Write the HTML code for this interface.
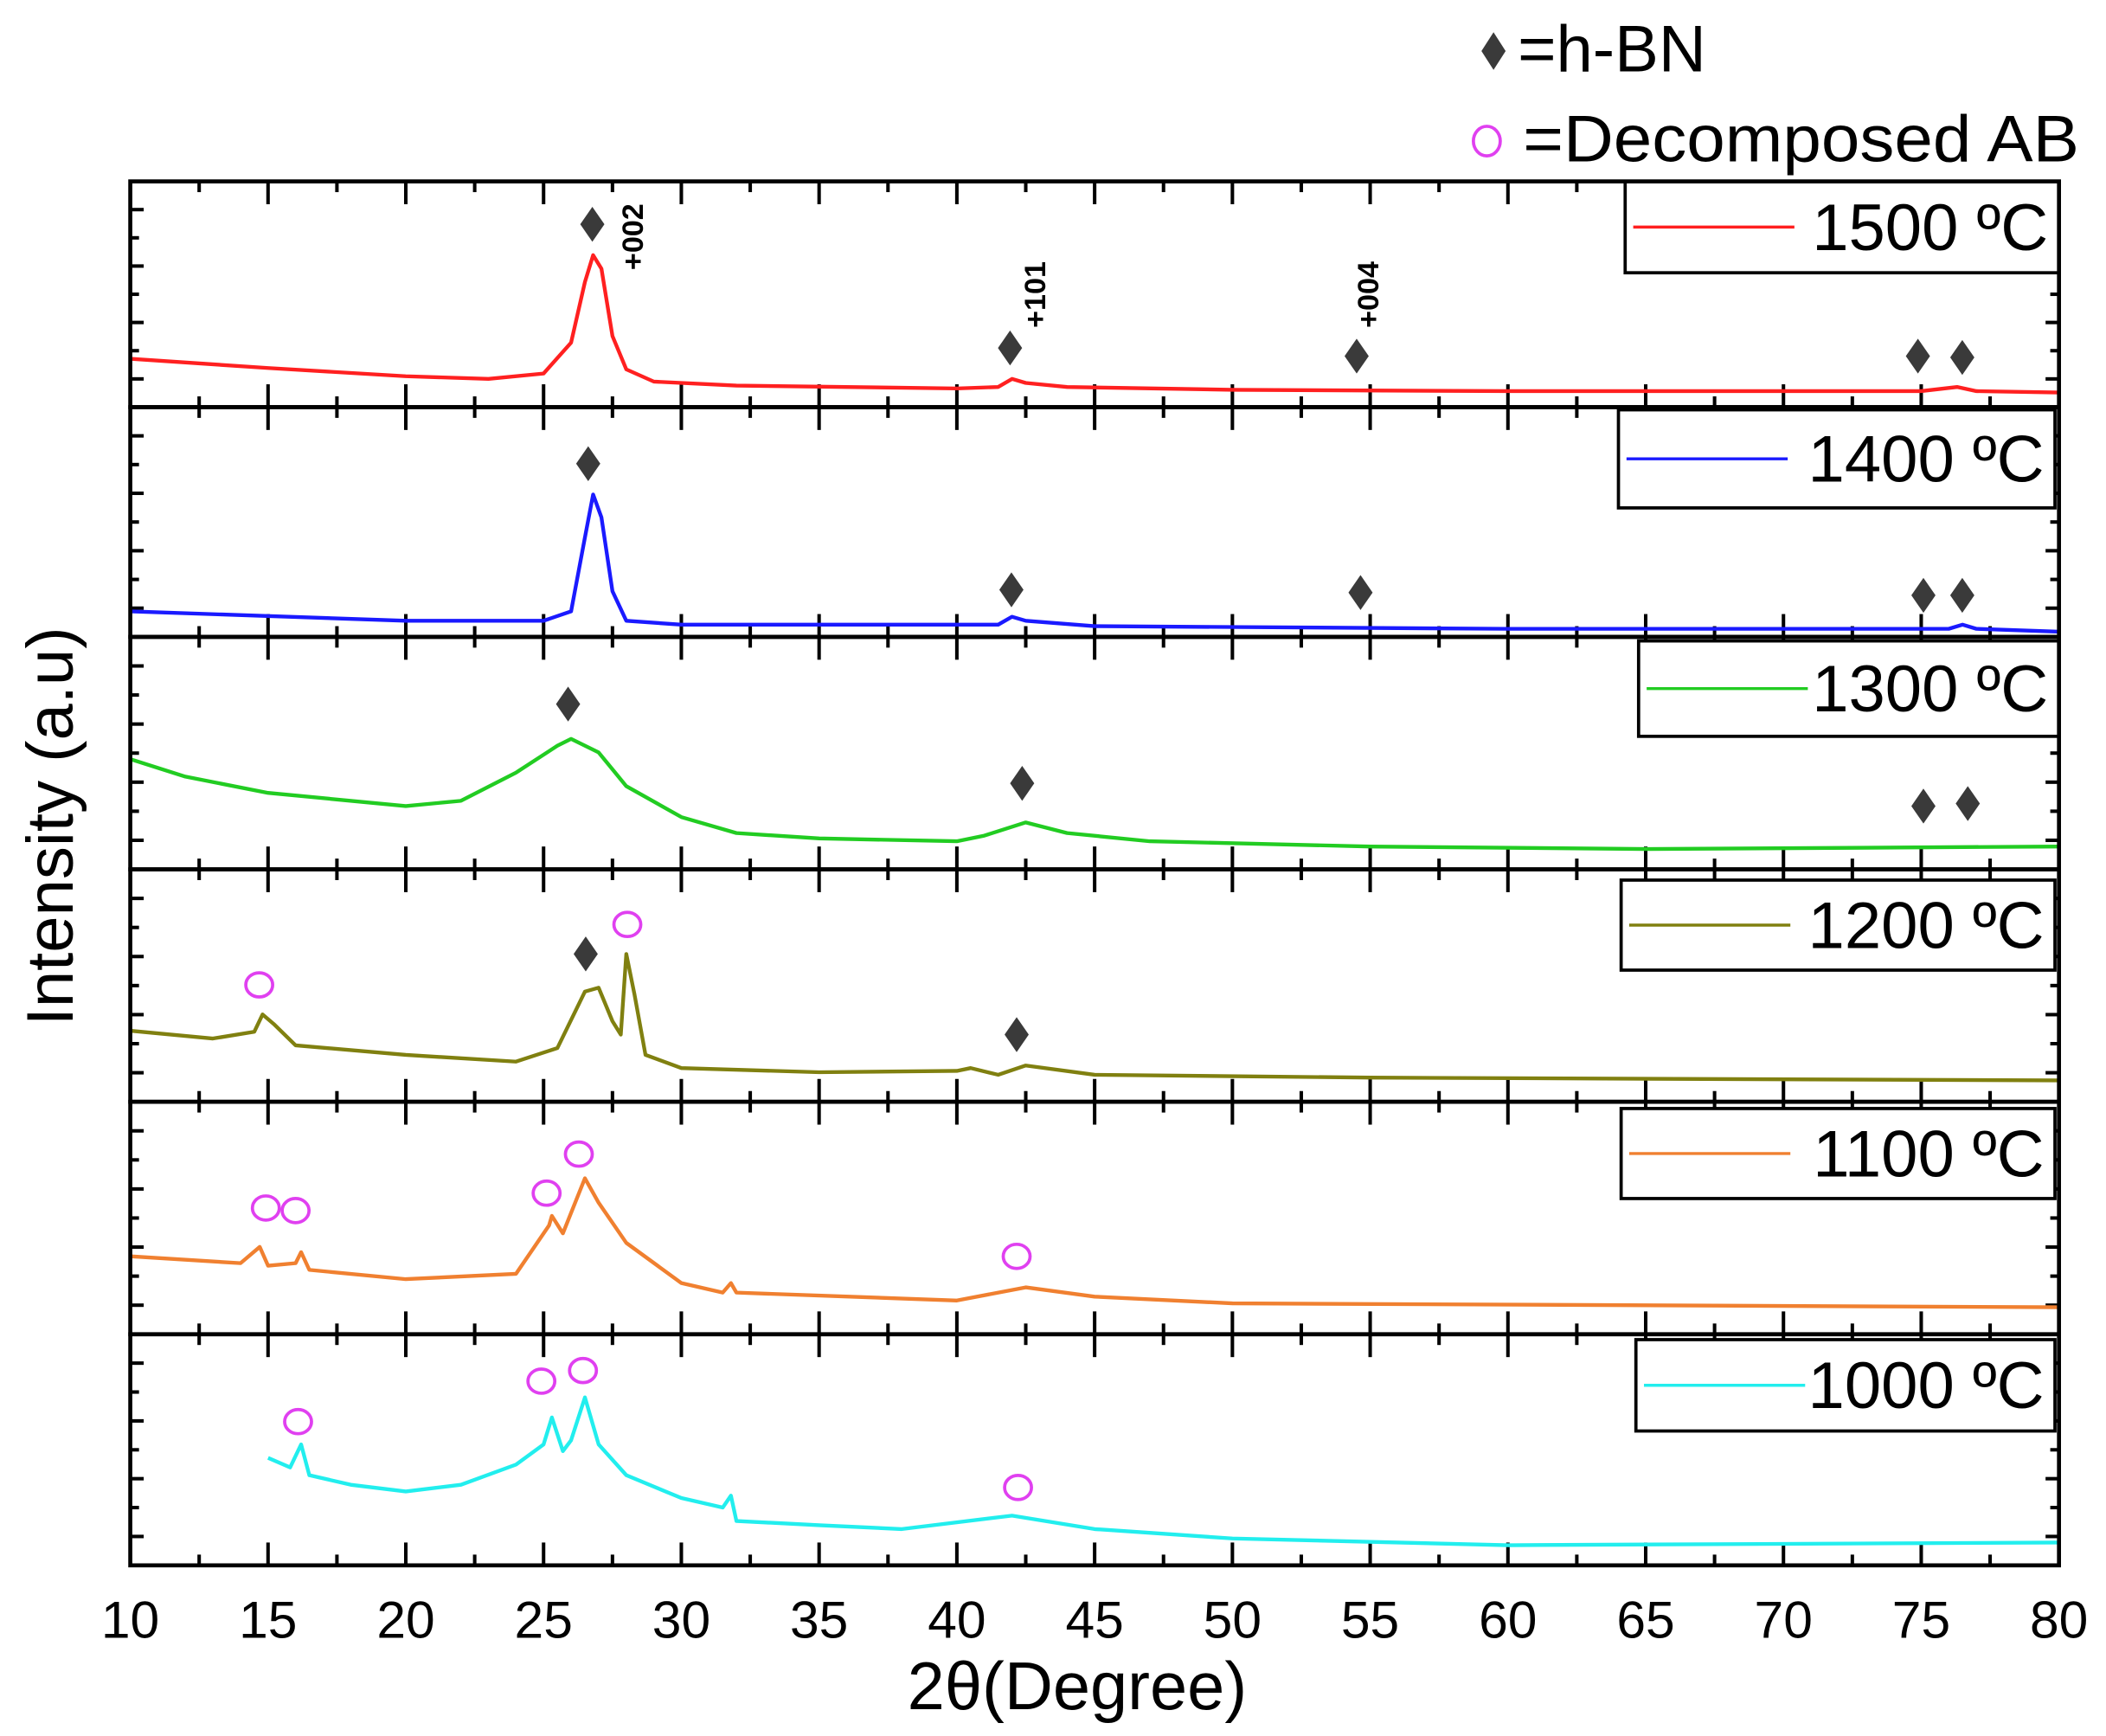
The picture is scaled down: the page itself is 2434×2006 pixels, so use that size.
<!DOCTYPE html>
<html><head><meta charset="utf-8"><style>
html,body{margin:0;padding:0;background:#fff}
svg{display:block}
text{font-family:"Liberation Sans",sans-serif}
</style></head><body>
<svg id="chart" width="2434" height="2006" viewBox="0 0 1568 1292" preserveAspectRatio="none" xmlns="http://www.w3.org/2000/svg">
<g id="g"></g>
</svg>
<script>
// panel labels / colours
const panelLabels = ["1500 ºC","1400 ºC","1300 ºC","1200 ºC","1100 ºC","1000 ºC"];
const panelColors = ["#ff2020","#1a1aff","#22cc22","#808010","#f08030","#22eeee"];
// series data: 2θ and intensity (0-100 panel units)
const x1500 = [10,15,20,23,25,26,26.5,26.8,27.1,27.5,28,29,32,40,41.5,42,42.5,44,50,60,75,76.3,77,80];
const y1500 = [21.4,17.3,13.7,12.5,14.9,28.6,55.4,67.3,61.3,31.5,16.7,11.3,9.5,8.3,8.9,12.5,10.7,8.9,7.7,7.1,7.1,8.9,7.1,6.5];
const x1400 = [10,20,25,26,26.5,26.8,27.1,27.5,28,30,41.5,42,42.5,45,60,76,76.5,77,80];
const y1400 = [11.1,7.0,7.0,11.1,43.3,62.0,52.0,19.9,7.0,5.3,5.3,8.8,7.0,4.7,3.5,3.5,5.3,3.5,2.3];
const x1300 = [10,12,15,20,22,24,25.5,26,27,28,30,32,35,40,41,42.5,44,47,55,65,80];
const y1300 = [47.4,39.9,32.9,27.2,29.5,41.6,53.2,56.1,50.3,35.8,22.5,15.6,13.3,12.1,14.5,20.2,15.6,12.1,9.8,8.7,9.8];
const x1200 = [10,13,14.5,14.8,15.2,16,20,24,25.5,26.5,27,27.5,27.8,28,28.3,28.7,30,35,40,40.5,41.5,42.5,45,55,80];
const y1200 = [30.6,27.2,30.1,37.6,33.5,24.3,20.2,17.3,23.1,47.4,49.1,34.7,28.9,63.6,46.2,20.2,14.5,12.7,13.3,14.5,11.6,15.6,11.6,10.4,9.2];
const x1100 = [10,14,14.7,15,16,16.2,16.5,20,24,25.2,25.3,25.7,26.5,27,28,30,31.5,31.8,32,40,42.5,45,50,80];
const y1100 = [33.5,30.6,37.6,29.5,30.6,35.3,27.7,23.7,26.0,46.8,50.9,43.4,67.1,56.6,39.3,22.0,17.9,22.0,17.9,14.5,20.2,16.2,13.3,11.6];
const x1000 = [15,15.8,16.2,16.5,18,20,22,24,25,25.3,25.7,26,26.5,27,28,30,31.5,31.8,32,35,38,42,45,50,60,80];
const y1000 = [46.5,42.4,52.3,39.0,34.9,32.0,34.9,43.6,52.3,64.0,49.4,54.1,72.7,52.3,39.0,29.1,25.0,30.2,19.2,17.4,15.7,21.5,15.7,11.6,8.7,9.9];
const seriesX = [x1500,x1400,x1300,x1200,x1100,x1000];
const seriesY = [y1500,y1400,y1300,y1200,y1100,y1000];
// phase markers: panel index, type, 2θ, intensity
const diamondPanel = [0,0,0,0,0,1,1,1,1,1,2,2,2,2,3,3];
const diamondX = [26.77,41.93,54.51,74.88,76.49,26.62,41.98,54.65,75.08,76.49,25.89,42.37,75.08,76.69,26.53,42.17];
const diamondY = [81,26.2,22.6,22.6,22,75.4,20.5,19.3,18.1,18.1,71.1,37,27.2,28.3,63.6,28.9];
const circlePanel = [3,3,4,4,4,4,4,5,5,5,5];
const circleX = [14.68,28.04,14.92,16.0,25.11,26.28,42.17,16.09,24.92,26.43,42.22];
const circleY = [50.3,76.3,54.3,53.2,60.7,77.5,33.5,62.2,79.7,84.3,33.7];
const hklLabels = ["+002","+101","+004"];
const hklX = [28.6,43.2,55.3];
const hklY = [60.7,35.1,35.1];
const xTicks = [10,15,20,25,30,35,40,45,50,55,60,65,70,75,80];

const NS="http://www.w3.org/2000/svg";
const g=document.getElementById('g');
const L=97,R=1533,XMIN=10,XMAX=80;
const panelTops=[135,303,474,647,820,993], panelBottoms=[303,474,647,820,993,1165];
const legendBoxes=[[1210,135,1533,203],[1205,305,1530,378],[1220,477,1533,548],[1207,655,1530,722],[1207,825,1530,892],[1218,997,1530,1065]];
function sx(v){return L+(v-XMIN)/(XMAX-XMIN)*(R-L);}
function sy(p,v){return panelBottoms[p]-v/100*(panelBottoms[p]-panelTops[p]);}
function mk(tag,attrs,parent){const e=document.createElementNS(NS,tag);for(const k in attrs)e.setAttribute(k,attrs[k]);(parent||g).appendChild(e);return e;}

for(let p=0;p<6;p++){
  const pg=mk('g',{});
  
  
  const t=panelTops[p],b=panelBottoms[p];
  for(let v=10;v<=80;v+=2.5){
    const maj=(v%5===0);const len=maj?17:8;const X=sx(v);
    let e=mk('line',{x1:X,x2:X,y1:b,y2:b-len,stroke:'#000','stroke-width':2.6},pg);
    
    e=mk('line',{x1:X,x2:X,y1:t,y2:t+len,stroke:'#000','stroke-width':2.6},pg);
    
  }
  for(let i=1;i<8;i++){
    const Y=b-i*(b-t)/8;const len=(i%2===0)?6.5:10;
    let e=mk('line',{x1:L,x2:L+len,y1:Y,y2:Y,stroke:'#000','stroke-width':2.6},pg);
    
    e=mk('line',{x1:R,x2:R-len,y1:Y,y2:Y,stroke:'#000','stroke-width':2.6},pg);
    
  }
  const pts=seriesX[p].map((xv,i)=>sx(xv).toFixed(1)+','+sy(p,seriesY[p][i]).toFixed(1)).join(' ');
  const s=mk('polyline',{points:pts,fill:'none',stroke:panelColors[p],'stroke-width':2.8,'stroke-linejoin':'round'},pg);
  
  
  const lb=legendBoxes[p];
  const lg=mk('g',{},pg);
  
  
  mk('rect',{x:lb[0],y:lb[1],width:lb[2]-lb[0],height:lb[3]-lb[1],fill:'#fff',stroke:'#000','stroke-width':2.4},lg);
  const my=(lb[1]+lb[3])/2;
  mk('line',{x1:lb[0]+6,x2:lb[0]+126,y1:my,y2:my,stroke:panelColors[p],'stroke-width':2.2},lg);
  const tx=mk('text',{x:lb[2]-8,y:my+17,'font-size':49,'text-anchor':'end',fill:'#000'},lg);
  tx.textContent=panelLabels[p];
  const fr=mk('rect',{x:L,y:t,width:R-L,height:b-t,fill:'none',stroke:'#000','stroke-width':3},pg);
  
}
for(let i=0;i<diamondX.length;i++){
  const X=sx(diamondX[i]),Y=sy(diamondPanel[i],diamondY[i]);
  const d=mk('polygon',{points:`${X},${Y-13} ${X+9},${Y} ${X},${Y+13} ${X-9},${Y}`,fill:'#3a3a3a'});
  
  
}
for(let i=0;i<circleX.length;i++){
  const X=sx(circleX[i]),Y=sy(circlePanel[i],circleY[i]);
  const c=mk('ellipse',{cx:X,cy:Y,rx:10,ry:9,fill:'none',stroke:'#e040f0','stroke-width':2.4});
  
  
}
for(let i=0;i<hklLabels.length;i++){
  const X=sx(hklX[i]),Y=sy(0,hklY[i]);
  const t=mk('text',{x:X,y:Y,'font-size':22,'font-family':'Liberation Serif','font-weight':'bold',transform:`rotate(-90 ${X} ${Y})`,fill:'#000'});
  
  
  t.textContent=hklLabels[i];
}
for(let i=0;i<xTicks.length;i++){
  const t=mk('text',{x:sx(xTicks[i]),y:1219,'font-size':39,'text-anchor':'middle',fill:'#000'});
  
  
  t.textContent=xTicks[i];
}
let t=mk('text',{x:802,y:1272,'font-size':50,'text-anchor':'middle',fill:'#000'});


t.textContent='2θ(Degree)';
t=mk('text',{x:54,y:615,'font-size':49,'text-anchor':'middle',transform:'rotate(-90 54 615)',fill:'#000'});


t.textContent='Intensity (a.u)';
const d=mk('polygon',{points:'1112,24 1121,38 1112,52 1103,38',fill:'#3a3a3a'});


t=mk('text',{x:1130,y:53,'font-size':49,fill:'#000'});


t.textContent='=h-BN';
const c=mk('ellipse',{cx:1107,cy:105,rx:10,ry:11,fill:'none',stroke:'#e040f0','stroke-width':2.4});


t=mk('text',{x:1134,y:120,'font-size':49,fill:'#000',textLength:414,lengthAdjust:'spacingAndGlyphs'});


t.textContent='=Decomposed AB';
</script>
</body></html>
